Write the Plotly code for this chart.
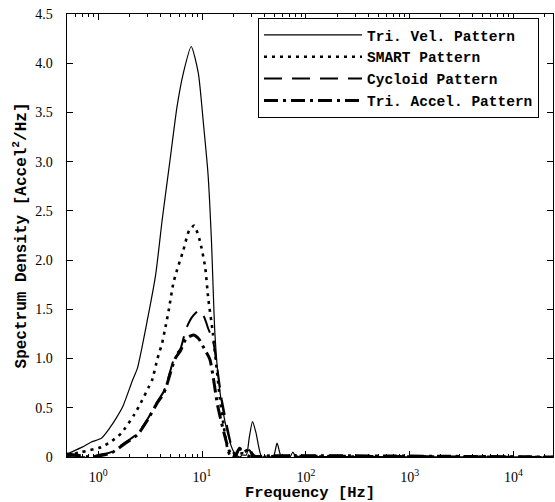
import plotly.graph_objects as go
import math

# ---- data ----
tri_vel_f = [0.5, 0.55, 0.7, 0.85, 1.07, 1.3, 1.5, 1.72, 2.14, 2.38, 2.97, 3.57, 4.13, 4.96, 5.74, 6.6, 7.86,
             9.2, 10.3, 11.4, 12.3, 13.3, 14.5, 16.0, 18.0, 20.0, 21.3, 23.0, 24.5, 26.7, 28.5, 30.6, 33.0,
             35.5, 37.5, 42.0, 48.5, 52.8, 58.0, 65.0, 70.0, 75.0, 80.0, 90.0, 100.0, 120.0, 200.0, 1000.0, 24000.0]
tri_vel_v = [0.03, 0.05, 0.10, 0.15, 0.19, 0.30, 0.40, 0.51, 0.78, 0.90, 1.39, 1.85, 2.41, 3.05, 3.56, 3.90, 4.17,
             3.90, 3.39, 2.88, 2.21, 1.25, 0.75, 0.45, 0.20, 0.06, 0.02, 0.0, 0.02, 0.02, 0.20, 0.36, 0.25,
             0.08, 0.0, 0.01, 0.0, 0.14, 0.0, 0.01, 0.0, 0.05, 0.0, 0.01, 0.01, 0.005, 0.005, 0.002, 0.0]

smart_f = [0.5, 0.69, 1.07, 1.3, 1.66, 2.22, 2.57, 3.06, 3.3, 3.72, 4.13, 4.44, 4.77, 5.3, 5.74, 6.6, 7.5, 8.4,
           9.5, 10.7, 11.5, 12.7, 14.9, 16.5, 17.7, 19.0, 21.0, 23.0, 25.0, 27.0, 30.0, 35.0, 40.0, 50.0, 60.0,
           100.0, 24000.0]
smart_v = [0.02, 0.05, 0.10, 0.15, 0.24, 0.43, 0.55, 0.71, 0.78, 1.0, 1.16, 1.32, 1.49, 1.77, 1.90, 2.10, 2.30, 2.35,
           2.20, 1.93, 1.60, 1.26, 0.58, 0.25, 0.07, 0.0, 0.01, 0.03, 0.04, 0.02, 0.0, 0.01, 0.0, 0.01, 0.0,
           0.005, 0.0]

cyc_f = [0.5, 0.86, 1.0, 1.33, 1.77, 2.4, 3.08, 3.7, 4.25, 4.6, 5.5, 6.2, 7.0, 8.0, 9.4, 10.5, 11.5, 12.7,
         15.5, 19.3, 21.0, 23.0, 25.0, 28.6, 31.0, 40.0, 24000.0]
cyc_v = [0.0, 0.0, 0.02, 0.05, 0.14, 0.24, 0.41, 0.56, 0.66, 0.76, 1.03, 1.10, 1.30, 1.42, 1.49, 1.42, 1.30, 1.19,
         0.58, 0.10, 0.0, 0.09, 0.03, 0.07, 0.0, 0.01, 0.0]

acc_f = [0.5, 0.6, 0.86, 1.0, 1.33, 1.77, 2.4, 3.08, 3.7, 4.25, 4.6, 5.5, 6.2, 7.0, 8.26, 9.3, 10.5, 11.9,
         14.2, 17.3, 19.5, 21.0, 23.0, 25.0, 28.6, 30.0, 33.0, 40.0, 24000.0]
acc_v = [0.03, 0.02, 0.0, 0.01, 0.04, 0.13, 0.23, 0.40, 0.55, 0.64, 0.74, 1.0, 1.08, 1.20, 1.24, 1.20, 1.10, 0.99,
         0.51, 0.14, 0.0, 0.02, 0.09, 0.05, 0.08, 0.04, 0.0, 0.01, 0.0]

series_names = ["Tri. Vel. Pattern", "SMART Pattern", "Cycloid Pattern", "Tri. Accel. Pattern"]

x_tickvals = [1, 10, 100, 1000, 10000]
x_ticktext = ["10<sup>0</sup>", "10<sup>1</sup>", "10<sup>2</sup>", "10<sup>3</sup>", "10<sup>4</sup>"]
y_tickvals = [0, 0.5, 1.0, 1.5, 2.0, 2.5, 3.0, 3.5, 4.0, 4.5]
y_ticktext = ["0", "0.5", "1.0", "1.5", "2.0", "2.5", "3.0", "3.5", "4.0", "4.5"]

MONO = "Liberation Mono"
SERIF = "Liberation Serif"
NB = "\u00a0\u00a0\u00a0"

fig = go.Figure()
fig.add_trace(go.Scatter(x=tri_vel_f, y=tri_vel_v, mode="lines", name=series_names[0],
                         line=dict(color="black", width=1.2, shape="spline", smoothing=0.6)))
fig.add_trace(go.Scatter(x=smart_f, y=smart_v, mode="lines", name=series_names[1],
                         line=dict(color="black", width=2.6, dash="3px,5px", shape="spline", smoothing=0.6)))
fig.add_trace(go.Scatter(x=cyc_f, y=cyc_v, mode="lines", name=series_names[2],
                         line=dict(color="black", width=2, dash="18px,10px", shape="spline", smoothing=0.6)))
fig.add_trace(go.Scatter(x=acc_f, y=acc_v, mode="lines", name=series_names[3],
                         line=dict(color="black", width=3, dash="14px,5px,3px,5px", shape="spline", smoothing=0.6)))
# helper trace so the overlay axis (inside ticks) is drawn
fig.add_trace(go.Scatter(x=[tri_vel_f[0]], y=[tri_vel_v[0]], xaxis="x2", mode="lines",
                         showlegend=False, hoverinfo="skip", line=dict(color="rgba(0,0,0,0)")))

xrange = [math.log10(0.5), math.log10(24000)]

fig.update_layout(
    width=555, height=502,
    margin=dict(l=67, r=2, t=14, b=45, autoexpand=False),
    paper_bgcolor="white", plot_bgcolor="white",
    font=dict(family=SERIF, color="black", size=14),
    showlegend=True,
    legend=dict(x=0.393, y=0.991, xanchor="left", yanchor="top",
                bgcolor="white", bordercolor="black", borderwidth=1,
                font=dict(family=MONO, size=14.5, color="black", weight="bold"),
                itemwidth=98, tracegroupgap=0,
                ),
    xaxis=dict(
        type="log", range=xrange,
        tickmode="array", tickvals=x_tickvals, ticktext=x_ticktext,
        ticks="outside", ticklen=7, tickcolor="rgba(0,0,0,0)",
        showline=True, linecolor="black", linewidth=1, mirror=True,
        showgrid=False, zeroline=False, automargin=False,
        tickfont=dict(family=SERIF, size=14),
        title=dict(text="Frequency [Hz]", font=dict(family=MONO, size=15.5, weight="bold"), standoff=6),
    ),
    xaxis2=dict(
        type="log", range=xrange, overlaying="x", anchor="y", side="bottom",
        tickmode="array", tickvals=x_tickvals, showticklabels=False,
        ticks="inside", ticklen=6, tickcolor="black",
        minor=dict(ticks="inside", ticklen=3, dtick="D1", tickcolor="black", showgrid=False),
        showline=True, linecolor="black", linewidth=1, mirror="ticks",
        showgrid=False, zeroline=False, automargin=False,
    ),
    yaxis=dict(
        range=[0, 4.5],
        tickmode="array", tickvals=y_tickvals, ticktext=[t + NB for t in y_ticktext],
        ticks="inside", ticklen=6, tickcolor="black",
        showline=True, linecolor="black", linewidth=1, mirror="ticks",
        showgrid=False, zeroline=False, automargin=False,
        tickfont=dict(family=SERIF, size=14),
        title=dict(text="Spectrum Density [Accel<sup>2</sup>/Hz]",
                   font=dict(family=MONO, size=16, weight="bold"), standoff=4),
    ),
)

fig.write_html("out.html", config={"displayModeBar": False},
               post_script="document.body.style.margin='0';document.body.style.padding='0';")
